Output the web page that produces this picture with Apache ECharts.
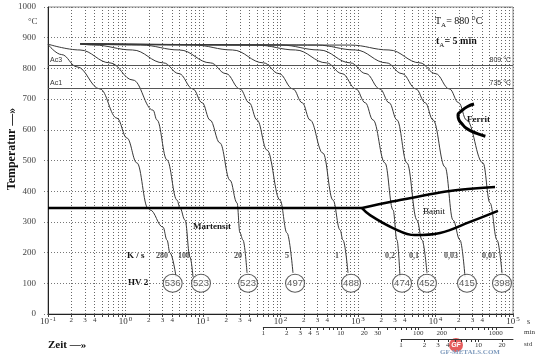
<!DOCTYPE html>
<html><head><meta charset="utf-8">
<script src="https://cdn.jsdelivr.net/npm/echarts@6/dist/echarts.min.js"></script>
<style>html,body{margin:0;padding:0;background:#fff}#c{width:540px;height:358px}</style>
</head><body><div id="c"></div><script>
// ---------------- data (time in s, temperature in °C) ----------------
const coolingRates = ['280','100','20','5','1','0,2','0,1','0,03','0,01'];
const hardness = [536,523,523,497,488,474,452,415,398];
const hardnessTimes = [4.06, 9.42, 38.1, 154, 813, 3698, 7762, 25470, 72110];
const rateLabelTimes = [2.96, 5.69, 28.3, 121, 536, 2588, 5284, 15850, 48980];
const curve280 = [[0.1,878],[0.15,845],[0.237,805],[0.469,733],[0.776,638],[1.045,573],[1.406,492],[1.95,345],[2.07,339],[3.05,283],[3.43,241],[3.75,199],[4.49,121]];
const curve100 = [[0.1,879],[0.259,860],[0.631,818],[1.25,762],[2.265,664],[2.547,632],[3.43,502],[4.62,371],[5.05,345],[5.86,306],[6.79,186],[7.43,121]];
const curve20 = [[0.26,880],[0.389,876],[1.23,860],[3.09,818],[4.9,783],[7.41,733],[9.77,688],[12.3,632],[16.56,557],[22.28,436],[27.48,362],[30.0,264],[32.8,241],[37.0,134]];
const curve5 = [[0.26,880],[1.574,876],[4.98,860],[12.5,818],[19.82,783],[30.0,733],[39.5,688],[49.8,632],[67.0,534],[98.6,371],[121.3,264],[144.9,134]];
const curve1 = [[0.26,880],[7.6,876],[24.0,860],[60.4,818],[95.7,783],[144.9,733],[191,688],[240.4,632],[353.2,524],[475.3,371],[586.1,274],[639.7,241],[743,134]];
const curve02 = [[0.26,880],[49.4,876],[156.3,860],[392.6,818],[622.3,783],[941.9,733],[1242,688],[1563,632],[2228,492],[2831,339],[3184,241],[3483,121]];
const curve01 = [[0.26,880],[100.7,876],[318.4,860],[799.8,818],[1268,783],[1919,733],[2529,688],[3184,632],[4285,492],[5768,306],[6699,241],[7762,134]];
const curve003 = [[0.26,880],[293.8,876],[929,860],[2333,818],[3698,783],[5598,733],[7379,688],[9290,632],[13270,479],[16830,306],[20700,241],[24040,121]];
const curve001 = [[0.26,880],[794,876],[2512,860],[6310,818],[10000,783],[15140,733],[19950,688],[25120,632],[41020,492],[50470,362],[62230,241],[72110,134]];
const martensiteStart = [[0.1,345],[1127,345]];
const bainiteStart = [[1127,345],[2588,365],[15380,401],[58610,414]];
const bainiteEnd = [[1127,345],[1429,322],[2831,280],[5433,257],[11430,264],[27860,300],[63970,336]];
const ferriteStart = [[31400,684],[26000,676],[22000,663],[19500,648],[20000,633],[21900,620],[25000,605],[30000,594],[37000,585],[44000,579]];
const acTemps = [809, 735];
const acNames = ['Ac3', 'Ac1'];
const decadeExponents = [-1,0,1,2,3,4,5];
const minorMultipliers = [2,3,4,5,6,7,8,9];
const minorLabelMultipliers = [2,3,4];
const minuteTicks = [1,2,3,4,5,6,7,8,9,10,20,30,40,50,60,70,80,90,100,200,300,400,500,600,700,800,900,1000];
const minuteLabels = [1,2,3,4,5,10,20,30,100,200,1000];
const hourTicks = [1,2,3,4,5,6,7,8,9,10,20];
const hourLabels = [1,2,3,4,10,20];
const hvRowTemp = 100, rateRowTemp = 188;

// ---------------- helpers ----------------
const lg = v => Math.log10(v);
const toXY = arr => arr.map(([t, T]) => [lg(t), T]);
const X_MIN = -1, X_MAX = 5;
const gridL = 48, gridR = 27, gridT = 7, gridB = 44;
const plotW = 540 - gridL - gridR;
const pxAt = v => gridL + plotW * (v - X_MIN) / (X_MAX - X_MIN);
const SERIF = '"Liberation Serif","DejaVu Serif",serif';
const SANS = '"Liberation Sans",Arial,sans-serif';

const tickPos = [];
for (let k = -1; k < 5; k++) { tickPos.push(k); minorMultipliers.forEach(m => tickPos.push(k + lg(m))); }
tickPos.push(5);
const labelPos = [];
decadeExponents.forEach(k => { labelPos.push(k); if (k < 5) minorLabelMultipliers.forEach(m => labelPos.push(k + lg(m))); });
const isInt = v => Math.abs(v - Math.round(v)) < 1e-9;

const curves = [curve280, curve100, curve20, curve5, curve1, curve02, curve01, curve003, curve001];
const series = [];
curves.forEach(c => series.push({
  type: 'line', data: toXY(c), smooth: 0.4, smoothMonotone: 'x', symbol: 'none', silent: true,
  lineStyle: { color: '#383838', width: 1 }, z: 2
}));
const thick = (d, w, smooth) => ({ type: 'line', data: toXY(d), smooth: smooth, symbol: 'none', silent: true,
  lineStyle: { color: '#000', width: w }, z: 3 });
const ms = thick(martensiteStart, 2.5, false);
ms.markLine = {
  symbol: 'none', silent: true, animation: false,
  lineStyle: { color: '#555', width: 1, type: 'solid' },
  label: { fontFamily: SANS, fontSize: 7, color: '#333', distance: 2 },
  data: [].concat(...acTemps.map((v, i) => [
    { yAxis: v, label: { formatter: acNames[i], position: 'insideStartTop' } },
    { yAxis: v, label: { formatter: v + ' °C', position: 'insideEndTop' } }
  ]))
};
series.push(ms);
series.push(thick(bainiteStart, 2.5, 0.3));
series.push(thick(bainiteEnd, 2.5, 0.4));
series.push(thick(ferriteStart, 3, 0.5));
series.push({
  type: 'scatter', data: hardnessTimes.map(t => [lg(t), hvRowTemp]), symbol: 'circle', symbolSize: [19, 18], silent: true,
  itemStyle: { color: '#fff', borderColor: '#333', borderWidth: 1 }, z: 6,
  label: { show: true, position: 'inside', formatter: p => String(hardness[p.dataIndex]), fontFamily: SANS, fontSize: 9.5, color: '#333' }
});
series.push({
  type: 'scatter', data: rateLabelTimes.map(t => [lg(t), rateRowTemp]), symbolSize: 2, silent: true,
  itemStyle: { color: 'rgba(0,0,0,0)' }, z: 6,
  label: { show: true, position: 'inside', formatter: p => coolingRates[p.dataIndex], fontFamily: SERIF, fontWeight: 'bold', fontSize: 8, color: '#222' }
});

const dummyY = i => ({ type: 'value', gridIndex: i, min: 0, max: 1, show: false });
const subAxis = (gi, startV, unit, ticks, labels) => ({
  type: 'value', gridIndex: gi, min: startV, max: X_MAX, position: 'bottom',
  axisLine: { show: true, onZero: false, lineStyle: { color: '#333', width: 1 } },
  axisTick: { show: true, length: 3, customValues: ticks.map(v => lg(v * unit)), lineStyle: { color: '#333' } },
  axisLabel: { customValues: labels.map(v => lg(v * unit)), formatter: v => String(Math.round(Math.pow(10, v) / unit)),
    fontFamily: SERIF, fontSize: 7, color: '#333', margin: 3 },
  splitLine: { show: false }
});

const option = {
  animation: false,
  backgroundColor: '#fff',
  grid: [
    { left: gridL, right: gridR, top: gridT, bottom: gridB, show: true, borderColor: '#888', borderWidth: 1, outerBoundsMode: 'none' },
    { left: pxAt(lg(60)), right: gridR, top: 300, bottom: 31, outerBoundsMode: 'none' },
    { left: pxAt(lg(3600)), right: gridR, top: 320, bottom: 19, outerBoundsMode: 'none' }
  ],
  xAxis: [
    {
      type: 'value', gridIndex: 0, min: X_MIN, max: X_MAX,
      axisLine: { show: true, onZero: false, lineStyle: { color: '#222', width: 1 } },
      axisTick: { show: true, length: 3, customValues: tickPos, lineStyle: { color: '#444' } },
      axisLabel: {
        customValues: labelPos, margin: 2, color: '#333',
        formatter: v => {
          if (isInt(v)) return '{b|10}{s|' + Math.round(v) + '}';
          const m = Math.round(Math.pow(10, v - Math.floor(v + 1e-9)));
          return '{m|' + m + '}';
        },
        rich: {
          b: { fontFamily: SERIF, fontSize: 9, lineHeight: 10, verticalAlign: 'bottom', color: '#333' },
          s: { fontFamily: SERIF, fontSize: 7, lineHeight: 8, padding: [0, 0, 4, 1], color: '#333' },
          m: { fontFamily: SERIF, fontSize: 7, lineHeight: 8, color: '#333' }
        }
      },
      splitLine: { show: true, lineStyle: { type: [1, 2], color: '#666', width: 1 } }
    },
    subAxis(1, lg(60), 60, minuteTicks, minuteLabels),
    subAxis(2, lg(3600), 3600, hourTicks, hourLabels)
  ],
  yAxis: [
    {
      type: 'value', gridIndex: 0, min: 0, max: 1000, interval: 100,
      axisLine: { show: true, onZero: false, lineStyle: { color: '#222', width: 1 } },
      axisTick: { show: true, length: 5, lineStyle: { type: [1, 2], color: '#777' } },
      axisLabel: { fontFamily: SERIF, fontSize: 9, color: '#444', margin: 12, formatter: v => String(v) },
      splitLine: { show: true, lineStyle: { type: [1, 2], color: '#777', width: 1 } }
    },
    dummyY(1), dummyY(2)
  ],
  series: series,
  graphic: [
    { type: 'text', x: 28, y: 17, style: { text: '°C', font: '9px ' + SERIF, fill: '#444' } },
    { type: 'text', x: 435, y: 16, style: { text: '{n|T}{u|A}{n|= 880 °C}', rich: {
      n: { fontFamily: SERIF, fontSize: 10, fill: '#111', lineHeight: 12, verticalAlign: 'top' },
      u: { fontFamily: SERIF, fontSize: 7, fill: '#111', lineHeight: 8, padding: [6, 0, 0, 0] } } } },
    { type: 'text', x: 436, y: 36, style: { text: '{n|t}{u|A}{n|= 5 min}', rich: {
      n: { fontFamily: SERIF, fontSize: 10, fontWeight: 'bold', fill: '#111', lineHeight: 12, verticalAlign: 'top' },
      u: { fontFamily: SERIF, fontSize: 7, fill: '#111', lineHeight: 8, padding: [6, 0, 0, 0] } } } },
    { type: 'text', x: 193, y: 222, style: { text: 'Martensit', font: 'bold 9px ' + SERIF, fill: '#111' } },
    { type: 'text', x: 423, y: 207, style: { text: 'Bainit', font: '9px ' + SERIF, fill: '#111' } },
    { type: 'text', x: 467, y: 115, style: { text: 'Ferrit', font: 'bold 9px ' + SERIF, fill: '#111' } },
    { type: 'text', x: 127, y: 251, style: { text: 'K / s', font: 'bold 9px ' + SERIF, fill: '#111' } },
    { type: 'text', x: 128, y: 278, style: { text: 'HV 2', font: 'bold 9px ' + SERIF, fill: '#111' } },
    { type: 'text', x: 527, y: 318, style: { text: 's', font: '8px ' + SERIF, fill: '#333' } },
    { type: 'text', x: 524, y: 329, style: { text: 'min', font: '7px ' + SERIF, fill: '#333' } },
    { type: 'text', x: 524, y: 341, style: { text: 'std', font: '7px ' + SERIF, fill: '#333' } },
    { type: 'text', x: 48, y: 340, style: { text: 'Zeit —»', font: 'bold 11px ' + SERIF, fill: '#111' } },
    { type: 'text', x: 12, y: 149, rotation: Math.PI / 2, style: { text: 'Temperatur —»', font: 'bold 12px ' + SERIF, fill: '#111', textAlign: 'center', textVerticalAlign: 'middle' } },
    { type: 'circle', shape: { cx: 456, cy: 345, r: 7 }, style: { fill: '#e04040', opacity: 0.85 } },
    { type: 'text', x: 456, y: 345, style: { text: 'GF', font: 'italic bold 7px ' + SANS, fill: '#fff', textAlign: 'center', textVerticalAlign: 'middle' } },
    { type: 'text', x: 440, y: 349, style: { text: 'GF-METALS.COM', font: 'bold 7px ' + SERIF, fill: '#7f9bbd' } }
  ]
};
const chart = echarts.init(document.getElementById('c'), null, { renderer: 'canvas' });
chart.setOption(option);
</script></body></html>
